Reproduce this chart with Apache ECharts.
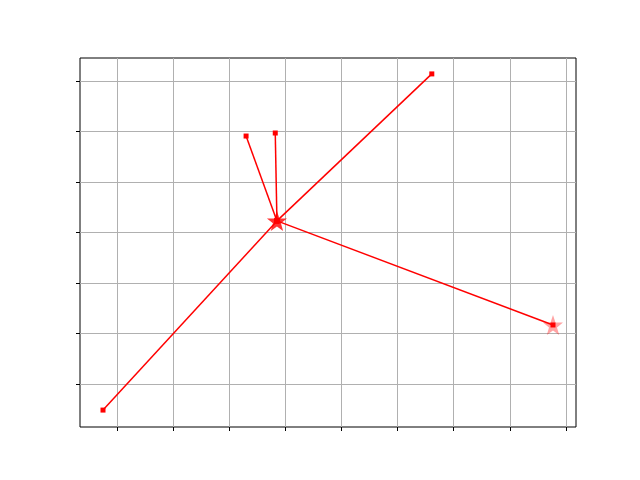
<!DOCTYPE html>
<html><head><meta charset="utf-8">
<script src="https://cdn.jsdelivr.net/npm/echarts@6/dist/echarts.min.js"></script>
<style>html,body{margin:0;padding:0;background:#fff}#c{width:640px;height:480px}</style>
</head><body><div id="c"></div>
<script>
var centerX = [3.85];
var centerY = [4.23];
var endX = [0.75, 6.61, 3.30, 3.82, 8.77];
var endY = [0.485, 7.14, 5.91, 5.97, 2.17];
var highlightX = [8.77];
var highlightY = [2.17];
var xTicks = [1, 2, 3, 4, 5, 6, 7, 8, 9];
var yTicks = [1, 2, 3, 4, 5, 6, 7];

var star = 'path://M0,-10 L2.35,-3.24 L9.51,-3.09 L3.8,1.24 L5.88,8.09 L0,4 L-5.88,8.09 L-3.8,1.24 L-9.51,-3.09 L-2.35,-3.24 Z';

var series = [];
for (var i = 0; i < endX.length; i++) {
  series.push({
    type: 'line',
    data: [[centerX[0], centerY[0]], [endX[i], endY[i]]],
    symbol: 'rect', symbolSize: 5, showAllSymbol: true,
    lineStyle: {color: '#ff0000', width: 1.5},
    itemStyle: {color: '#ff0000'},
    animation: false, z: 3
  });
}
series.push({
  type: 'scatter', data: [[highlightX[0], highlightY[0]]],
  symbol: star, symbolSize: 20, itemStyle: {color: 'rgba(255,0,0,0.45)'},
  animation: false, z: 2
});
series.push({
  type: 'scatter', data: [[centerX[0], centerY[0]]],
  symbol: star, symbolSize: 20, itemStyle: {color: '#ff0000'},
  animation: false, z: 5
});

var chart = echarts.init(document.getElementById('c'), null, {renderer: 'canvas'});
chart.setOption({
  backgroundColor: '#fff',
  grid: {left: 80, top: 58, width: 496, height: 369, show: true, borderColor: '#000', borderWidth: 1, containLabel: false},
  xAxis: {
    type: 'value', min: 0.34, max: 9.18,
    axisLine: {show: false},
    axisTick: {show: true, inside: false, length: 4, lineStyle: {color: '#000'}, customValues: xTicks},
    axisLabel: {show: false, customValues: xTicks},
    splitLine: {show: true, lineStyle: {color: '#b0b0b0', width: 1}}
  },
  yAxis: {
    type: 'value', min: 0.15, max: 7.455,
    axisLine: {show: false},
    axisTick: {show: true, inside: false, length: 4, lineStyle: {color: '#000'}, customValues: yTicks},
    axisLabel: {show: false, customValues: yTicks},
    splitLine: {show: true, lineStyle: {color: '#b0b0b0', width: 1}}
  },
  series: series
});
</script></body></html>
